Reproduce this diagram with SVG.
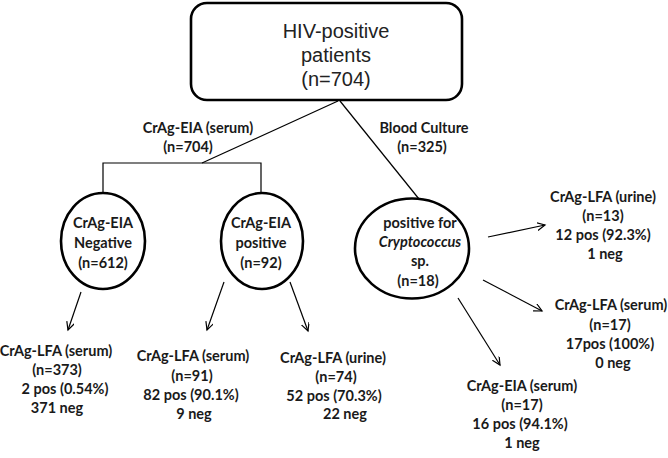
<svg xmlns="http://www.w3.org/2000/svg" width="668" height="458" viewBox="0 0 668 458">
<defs>
<marker id="ah" markerWidth="10" markerHeight="10" refX="8" refY="4" orient="auto" markerUnits="userSpaceOnUse">
<path d="M0,0 L8,4 L0,8" fill="none" stroke="#000" stroke-width="1.2"/>
</marker>
</defs>
<style>
.t{font-family:Lato,"Open Sans","Liberation Sans",sans-serif;font-weight:700;font-size:14.5px;fill:#1a1a1a;text-anchor:middle}
.big{font-family:"Liberation Sans",Arial,sans-serif;font-size:20px;fill:#222;text-anchor:middle}
.shape{fill:#fff;stroke:#000;stroke-width:2.6}
.ln{fill:none;stroke:#000;stroke-width:1.2}
.arr{fill:none;stroke:#000;stroke-width:1.2;marker-end:url(#ah)}
</style>
<rect width="668" height="458" fill="#fff"/>
<g id="connectors">
<path class="ln" d="M338,101 L202,163"/>
<path class="ln" d="M103,193 L103,163 L261,163 L261,193"/>
<path class="ln" d="M340,101 L419,199"/>
<path class="arr" d="M81,292 L68,330"/>
<path class="arr" d="M224,282 L207,330"/>
<path class="arr" d="M290,282 L308,331"/>
<path class="arr" d="M488,237 L545,225"/>
<path class="arr" d="M483,280 L542,311"/>
<path class="arr" d="M458,298 L500,365"/>
<text class="t" x="198" y="133">CrAg-EIA (serum)</text>
<text class="t" x="188" y="152">(n=704)</text>
<text class="t" x="424" y="133">Blood Culture</text>
<text class="t" x="422" y="152">(n=325)</text>
</g>
<g id="root">
<rect class="shape" x="191" y="3" width="271" height="97" rx="16"/>
<text class="big" x="336" y="38">HIV-positive</text>
<text class="big" x="336" y="62">patients</text>
<text class="big" x="336" y="86">(n=704)</text>
</g>
<g id="eia-neg">
<ellipse class="shape" cx="103" cy="241" rx="42" ry="48"/>
<text class="t" x="103" y="228">CrAg-EIA</text>
<text class="t" x="103" y="248">Negative</text>
<text class="t" x="103" y="268">(n=612)</text>
</g>
<g id="eia-pos">
<ellipse class="shape" cx="262" cy="241" rx="41" ry="48"/>
<text class="t" x="261" y="228">CrAg-EIA</text>
<text class="t" x="261" y="248">positive</text>
<text class="t" x="261" y="268">(n=92)</text>
</g>
<g id="crypto">
<ellipse class="shape" cx="412" cy="248.5" rx="57" ry="50"/>
<text class="t" x="420" y="228">positive for</text>
<text class="t" x="420" y="247" font-style="italic">Cryptococcus</text>
<text class="t" x="420" y="266">sp.</text>
<text class="t" x="418" y="286">(n=18)</text>
</g>
<g id="neg-lfa-serum">
<text class="t" x="56" y="356">CrAg-LFA (serum)</text>
<text class="t" x="57" y="375">(n=373)</text>
<text class="t" x="65" y="394">2 pos (0.54%)</text>
<text class="t" x="57" y="413">371 neg</text>
</g>
<g id="pos-lfa-serum">
<text class="t" x="193" y="361">CrAg-LFA (serum)</text>
<text class="t" x="192" y="381">(n=91)</text>
<text class="t" x="191" y="400">82 pos (90.1%)</text>
<text class="t" x="194" y="419">9 neg</text>
</g>
<g id="pos-lfa-urine">
<text class="t" x="333" y="363">CrAg-LFA (urine)</text>
<text class="t" x="336" y="382">(n=74)</text>
<text class="t" x="334" y="401">52 pos (70.3%)</text>
<text class="t" x="345" y="419">22 neg</text>
</g>
<g id="bc-lfa-urine">
<text class="t" x="603" y="202">CrAg-LFA (urine)</text>
<text class="t" x="603" y="221">(n=13)</text>
<text class="t" x="603" y="240">12 pos (92.3%)</text>
<text class="t" x="605" y="259">1 neg</text>
</g>
<g id="bc-lfa-serum">
<text class="t" x="611" y="310">CrAg-LFA (serum)</text>
<text class="t" x="610" y="330">(n=17)</text>
<text class="t" x="610" y="349">17pos (100%)</text>
<text class="t" x="613" y="368">0 neg</text>
</g>
<g id="bc-eia-serum">
<text class="t" x="522" y="391">CrAg-EIA (serum)</text>
<text class="t" x="522" y="410">(n=17)</text>
<text class="t" x="520" y="429">16 pos (94.1%)</text>
<text class="t" x="522" y="448">1 neg</text>
</g>
</svg>
